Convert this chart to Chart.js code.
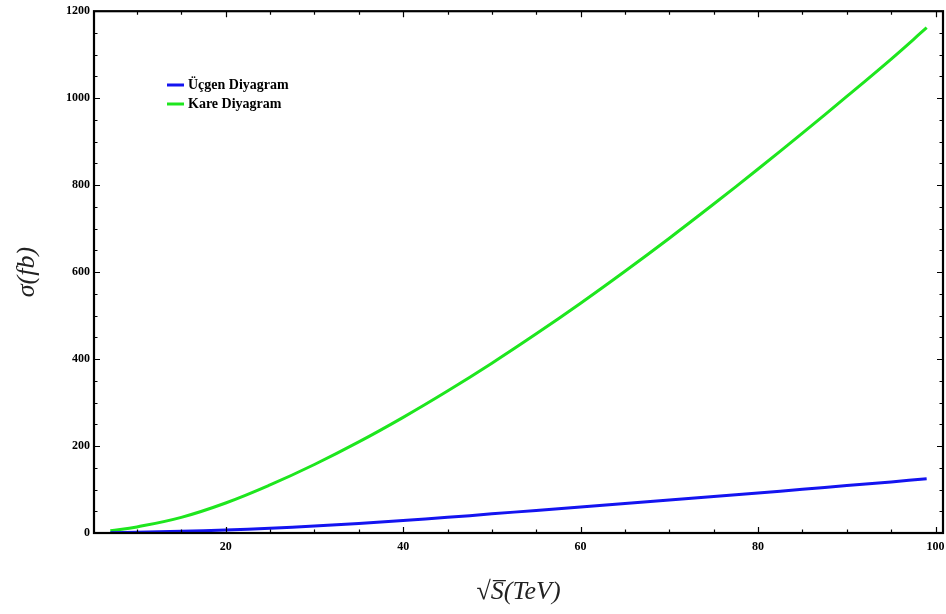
<!DOCTYPE html>
<html>
<head>
<meta charset="utf-8">
<script src="https://cdn.jsdelivr.net/npm/chart.js@4"></script>
<style>
  html, body { margin: 0; padding: 0; background: #fff; }
  #wrap { width: 946px; height: 614px; }
</style>
</head>
<body>
<div id="wrap"><canvas id="c" width="946" height="614"></canvas></div>
<script>
// Data
const energies = [7, 10, 15, 20, 25, 30, 35, 40, 45, 50, 55, 60, 65, 70, 75, 80, 85, 90, 95, 99];
const triangleSigma = [0.3, 1.5, 4, 7, 11, 16, 22, 29, 36, 44, 52, 60, 68, 76, 84, 92, 100.5, 109, 117.5, 125];
const squareSigma = [5, 14, 36, 69, 110.5, 157.5, 209.5, 266, 326.5, 390.5, 458, 528.5, 602, 678, 756.5, 837, 919.5, 1004, 1090, 1162];
const seriesNames = ['Üçgen Diyagram', 'Kare Diyagram'];
const xTickValues = [20, 40, 60, 80, 100];
const yTickValues = [0, 200, 400, 600, 800, 1000, 1200];
const xTitle = '\u221AS\u0305(TeV)';
const yTitle = '\u03C3(fb)';

const blue = '#1414f0';
const green = '#1ee61e';

const toPoints = (xs, ys) => xs.map((x, i) => ({ x: x, y: ys[i] }));

const frameTicks = {
  id: 'frameTicks',
  afterDraw(chart) {
    const ctx = chart.ctx;
    const a = chart.chartArea;
    const xs = chart.scales.x, ys = chart.scales.y;
    ctx.save();
    ctx.strokeStyle = '#000';
    ctx.lineWidth = 1.2;
    for (let v = 10; v <= 100; v += 5) {
      const px = Math.round(xs.getPixelForValue(v)) + 0.5;
      const len = (v % 20 === 0) ? 6 : 3.5;
      ctx.beginPath();
      ctx.moveTo(px, a.bottom); ctx.lineTo(px, a.bottom - len);
      ctx.moveTo(px, a.top); ctx.lineTo(px, a.top + len);
      ctx.stroke();
    }
    for (let v = 50; v < 1200; v += 50) {
      const py = Math.round(ys.getPixelForValue(v)) + 0.5;
      const len = (v % 200 === 0) ? 6 : 3.5;
      ctx.beginPath();
      ctx.moveTo(a.left, py); ctx.lineTo(a.left + len, py);
      ctx.moveTo(a.right, py); ctx.lineTo(a.right - len, py);
      ctx.stroke();
    }
    ctx.lineWidth = 2.2;
    ctx.strokeRect(a.left, a.top, a.right - a.left, a.bottom - a.top);

    // legend
    const items = [{ name: seriesNames[0], color: blue, y: 85 }, { name: seriesNames[1], color: green, y: 104 }];
    ctx.font = 'bold 14px "Liberation Serif"';
    ctx.textBaseline = 'middle';
    ctx.textAlign = 'left';
    items.forEach(it => {
      ctx.strokeStyle = it.color;
      ctx.lineWidth = 3;
      ctx.beginPath();
      ctx.moveTo(167, it.y); ctx.lineTo(184, it.y);
      ctx.stroke();
      ctx.fillStyle = '#000';
      ctx.fillText(it.name, 188, it.y);
    });
    ctx.restore();
  }
};

new Chart(document.getElementById('c'), {
  type: 'line',
  data: {
    datasets: [
      { label: seriesNames[0], data: toPoints(energies, triangleSigma), borderColor: blue, borderWidth: 3, pointRadius: 0, tension: 0.4, fill: false },
      { label: seriesNames[1], data: toPoints(energies, squareSigma), borderColor: green, borderWidth: 3, pointRadius: 0, tension: 0.4, fill: false }
    ]
  },
  options: {
    responsive: false,
    animation: false,
    devicePixelRatio: 1,
    layout: { padding: { top: 9, right: 3, left: 0, bottom: 0 } },
    plugins: { legend: { display: false }, tooltip: { enabled: false } },
    scales: {
      x: {
        type: 'linear',
        min: 5.16,
        max: 100.84,
        grid: { display: false, drawTicks: false },
        border: { display: false },
        afterBuildTicks: s => { s.ticks = xTickValues.map(v => ({ value: v })); },
        afterFit: s => { s.height = 81; s.paddingLeft = 0; s.paddingRight = 0; },
        ticks: { padding: 7, color: '#000', maxRotation: 0, callback: v => String(v), font: { family: 'Liberation Serif', size: 12, weight: 'bold' } },
        title: { display: true, text: xTitle, color: '#222', padding: { top: 0, bottom: 6 }, font: { family: 'Liberation Serif', size: 26, style: 'italic' } }
      },
      y: {
        type: 'linear',
        min: 0,
        max: 1200,
        grid: { display: false, drawTicks: false },
        border: { display: false },
        afterBuildTicks: s => { s.ticks = yTickValues.map(v => ({ value: v })); },
        afterFit: s => { s.width = 94; },
        ticks: { padding: 4, color: '#000', callback: v => String(v), font: { family: 'Liberation Serif', size: 12, weight: 'bold' } },
        title: { display: true, text: yTitle, color: '#222', padding: { top: 12, bottom: 0 }, font: { family: 'Liberation Serif', size: 26, style: 'italic' } }
      }
    }
  },
  plugins: [frameTicks]
});
</script>
</body>
</html>
